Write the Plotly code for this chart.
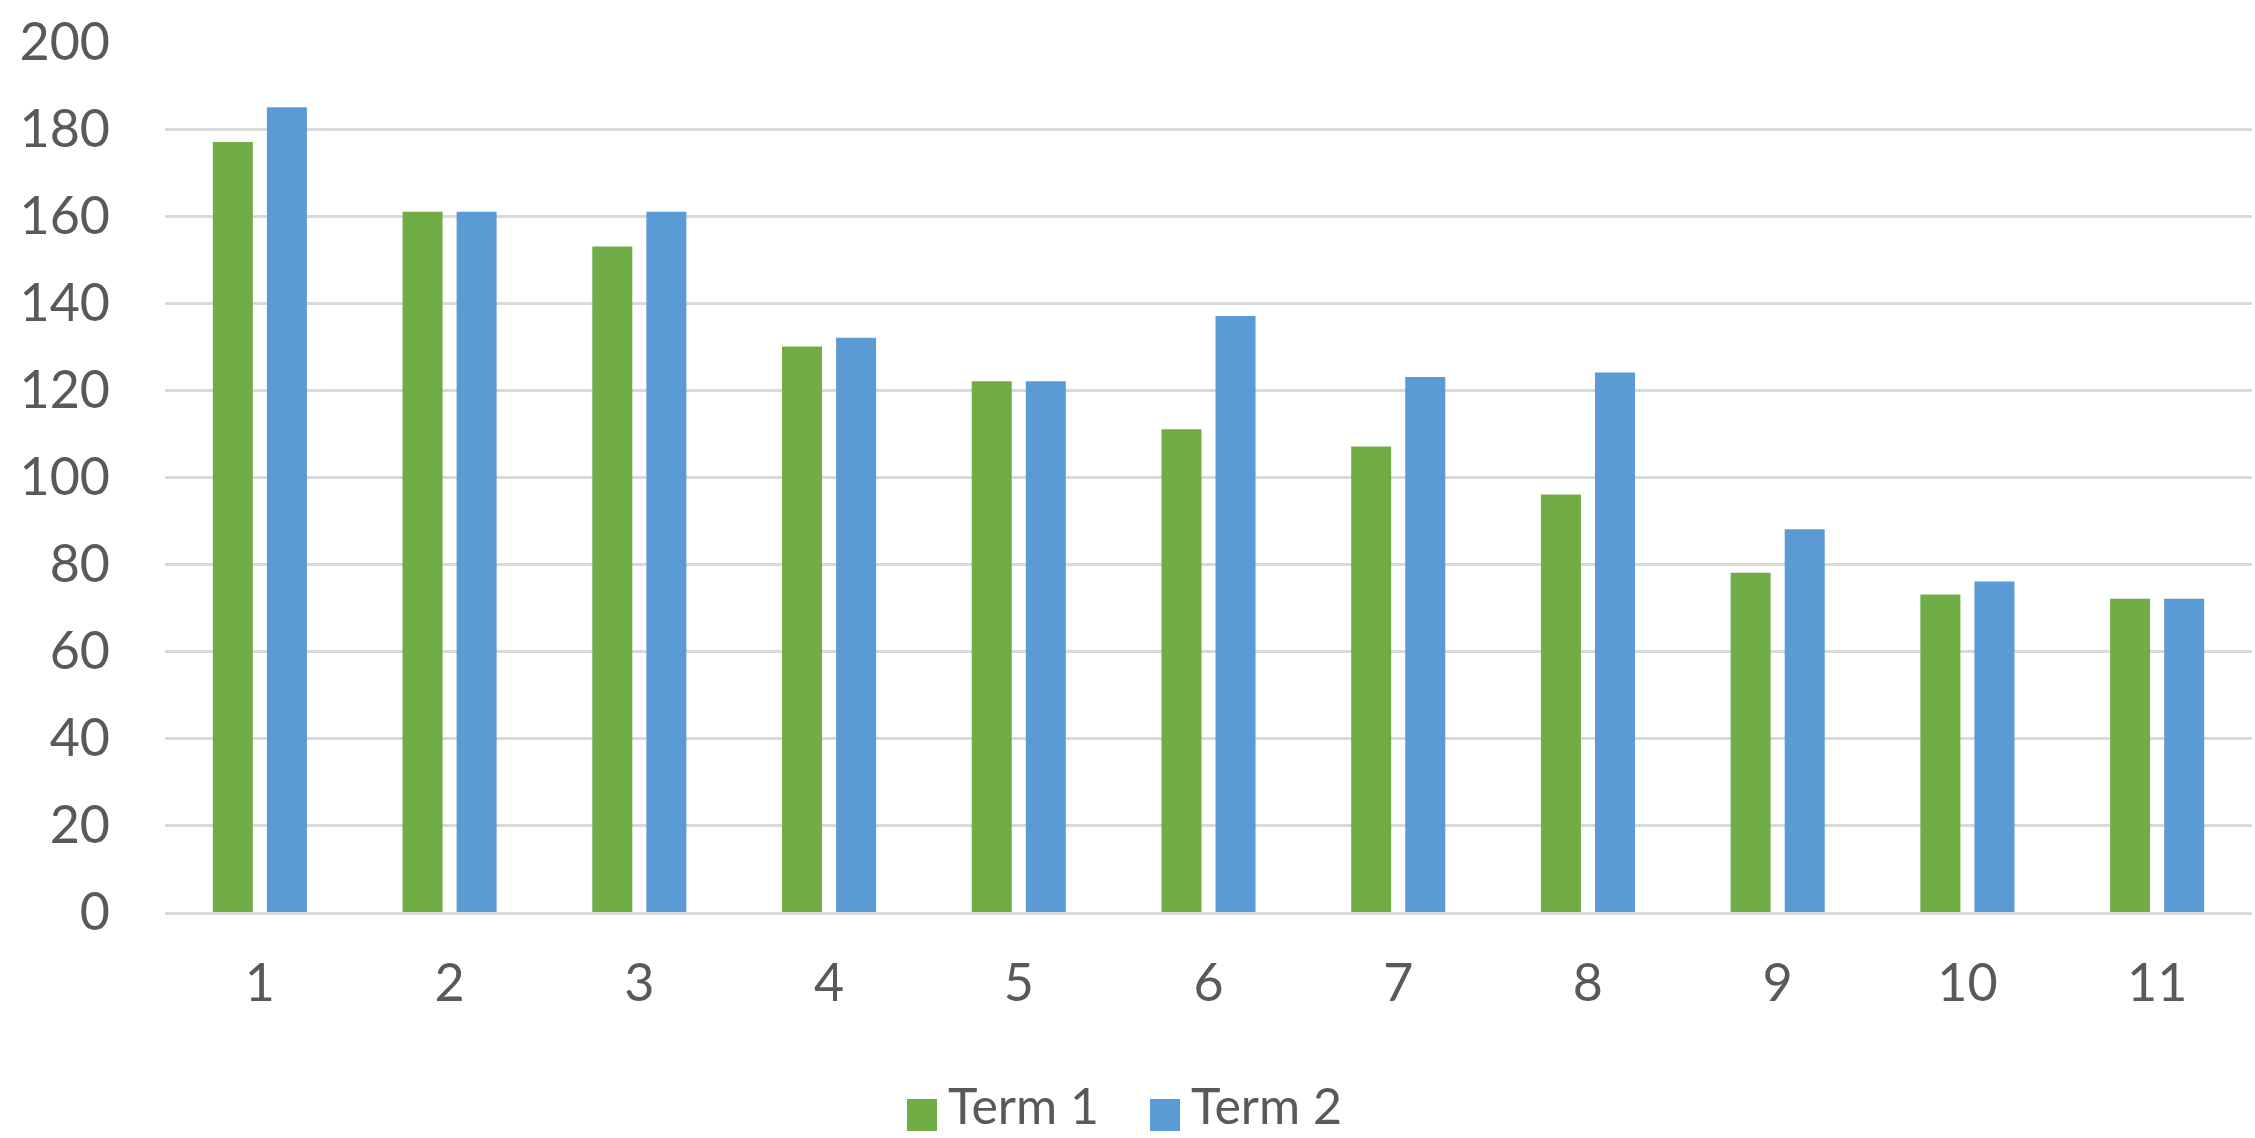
import plotly.graph_objects as go

# Category labels along the x axis
categories = ["1", "2", "3", "4", "5", "6", "7", "8", "9", "10", "11"]

# Series names and values
series_names = ["Term 1", "Term 2"]
term1 = [177, 161, 153, 130, 122, 111, 107, 96, 78, 73, 72]
term2 = [185, 161, 161, 132, 122, 137, 123, 124, 88, 76, 72]

# Y axis ticks
y_ticks = [0, 20, 40, 60, 80, 100, 120, 140, 160, 180, 200]

GREEN = "#70AD47"
BLUE = "#5B9BD5"
TEXT = "#595959"
GRID = "#D9D9D9"
FONT = "Lato, 'Open Sans', 'Liberation Sans', sans-serif"

W, H = 2255, 1138
ML, MR, MT, MB = 165, 3, 42, 226
PLOT_W = W - ML - MR
PLOT_H = H - MT - MB


def px_to_paper_x(px):
    return (px - ML) / PLOT_W


def px_to_paper_y(py):
    return (H - MB - py) / PLOT_H


colors = [GREEN, BLUE]
series = [term1, term2]

fig = go.Figure()
for name, vals, col in zip(series_names, series, colors):
    fig.add_trace(go.Bar(x=categories, y=vals, name=name, showlegend=False,
                         marker=dict(color=col, line=dict(width=0))))

# Legend below the chart: a coloured square followed by the series name
legend_left = [907, 1150]   # left edge of each swatch, in pixels
swatch_w, swatch_h = 30, 32
swatch_top = 1099
for name, col, x0 in zip(series_names, colors, legend_left):
    fig.add_shape(type="rect", xref="paper", yref="paper",
                  x0=px_to_paper_x(x0), x1=px_to_paper_x(x0 + swatch_w),
                  y0=px_to_paper_y(swatch_top + swatch_h), y1=px_to_paper_y(swatch_top),
                  fillcolor=col, line=dict(width=0), layer="above")
    fig.add_annotation(text=name, xref="paper", yref="paper",
                       x=px_to_paper_x(x0 + swatch_w + 10), xanchor="left",
                       y=px_to_paper_y(1105), yanchor="middle",
                       showarrow=False, borderpad=0,
                       font=dict(family=FONT, size=50, color=TEXT))

fig.update_layout(
    width=W,
    height=H,
    margin=dict(l=ML, r=MR, t=MT, b=MB),
    paper_bgcolor="white",
    plot_bgcolor="white",
    barmode="group",
    bargap=0.43,
    bargroupgap=0.26,
    font=dict(family=FONT, size=52, color=TEXT),
    xaxis=dict(
        type="category",
        showgrid=False,
        showline=True,
        linecolor=GRID,
        linewidth=3,
        ticks="",
        tickfont=dict(size=52, color=TEXT),
        ticklabelstandoff=24,
    ),
    yaxis=dict(
        range=[0, 200],
        tickvals=y_ticks,
        showgrid=True,
        gridcolor=GRID,
        gridwidth=3,
        zeroline=False,
        showline=False,
        ticks="",
        tickfont=dict(size=52, color=TEXT),
        ticklabelstandoff=54,
    ),
    showlegend=False,
)

fig.write_html("out.html")
